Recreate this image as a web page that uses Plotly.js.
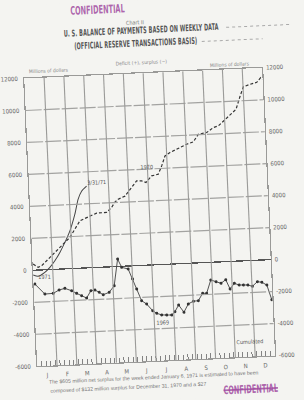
<!DOCTYPE html>
<html><head><meta charset="utf-8">
<script src="https://cdn.plot.ly/plotly-3.0.1.min.js"></script>
<style>
html,body{margin:0;padding:0;background:#f4f4f1;overflow:hidden;width:304px;height:400px}
#wrap{position:absolute;left:0;top:0;width:304px;height:400px;transform:rotate(-2.58deg);transform-origin:150px 225px}
#chart{position:absolute;left:0;top:0;width:304px;height:400px}
.stamp{position:absolute;font-family:"Liberation Sans Narrow","DejaVu Sans Condensed",sans-serif;font-weight:bold;font-size:7.3px;color:rgba(160,75,160,0.85);transform:scaleY(1.6);white-space:nowrap;line-height:9px}
.ttl{position:absolute;left:0;width:304px;text-align:center;font-family:"DejaVu Sans Condensed",sans-serif;font-weight:bold;font-size:5.4px;color:#555;letter-spacing:0.15px;transform:scaleY(1.7);white-space:nowrap;line-height:7px}
</style></head><body>
<div id="wrap"><div id="chart"></div>
<div class="ttl" style="top:27px;left:-2px">U. S. BALANCE OF PAYMENTS BASED ON WEEKLY DATA</div>
<div class="ttl" style="top:40px;left:-8px">(OFFICIAL RESERVE TRANSACTIONS BASIS)</div>
<div class="stamp" style="left:80px;top:3px">CONFIDENTIAL</div>
<div class="stamp" style="left:216px;top:389px;text-decoration:line-through">CONFIDENTIAL</div>
</div>
<script>
// Month labels along the bottom
const months = ['J','F','M','A','M','J','J','A','S','O','N','D'];
// Y tick values / labels (millions of dollars)
const yTicks = [-6000,-4000,-2000,0,2000,4000,6000,8000,10000,12000];
const yTickText = ['-6000','-4000','-2000','0','2000','4000','6000','8000','10000','12000'];

// 1969 cumulated (week position, millions of dollars)
const w1969 = [0.28,2.37,4.19,5.51,6.79,8.24,9.31,10.38,11.45,12.45,13.33,14.25,15.1,16.43,17.59,18.59,19.39,20.8,21.67,22.46,23.42,24.49,25.74,26.59,27.66,28.75,29.84,30.59,31.46,32.55,33.58,34.72,35.81,36.81,37.69,38.72,39.85,40.92,41.99,42.85,43.83,44.85,45.79,46.76,47.74,48.88,49.84,50.91,51.85];
const v1969 = [-860,-1515,-1496,-1303,-1216,-1384,-1559,-1721,-1883,-1434,-1403,-1559,-1721,-1590,-1191,468,-62,-187,-823,-1459,-2200,-2425,-2855,-3030,-3148,-3167,-3180,-2980,-2575,-3042,-2537,-2381,-2362,-1914,-1926,-1103,-1228,-1340,-1128,-1721,-1378,-1496,-1509,-1521,-1615,-1340,-1390,-1577,-2506];

// 1970 cumulated (dashed)
const w1970 = [0.11,1.17,1.93,3.07,4.21,4.97,6.1,7.24,8.39,9.56,10.74,11.85,12.97,14.46,16.65,17.79,18.57,19.32,20.81,21.98,23.52,24.61,25.54,26.85,28.31,29.13,29.95,31.08,33.31,34.8,36.27,37.44,39.29,40.78,41.89,43.42,44.95,45.92,46.92,47.73,49.22,50.7,51.6,51.95];
const v1970 = [390,170,254,558,855,1059,1356,1654,1951,2455,2958,3094,3242,3391,3407,3704,4026,4204,4372,4794,5293,5278,5167,5562,5650,6157,6771,6970,7253,7440,7565,8031,8114,8407,8493,8891,9290,9484,10283,10866,11003,11109,11388,11276];

// 1971 cumulated (solid)
const w1971 = [0,1.08,2.58,3.73,4.88,6.06,7.25,8.46,9.71,10.57,11.4,12.54];
const v1971 = [-296,-391,-160,137,535,1044,1654,2363,3390,4316,4805,5103];

const monthMid = months.map((m,i)=>(i+0.5)*52/12);
const monthBounds = months.map((m,i)=>(i+1)*52/12).slice(0,11);
const fam = '"Liberation Sans Narrow","DejaVu Sans Condensed",sans-serif';
const tf = {family:fam,size:6,color:'#666'};
const gridC = '#9a9a98';

const traces = [
  {x:w1970,y:v1970,mode:'lines',line:{color:'#333',width:1.2,dash:'3px,2px'},showlegend:false,hoverinfo:'skip'},
  {x:w1971,y:v1971,mode:'lines',line:{color:'#444',width:1,shape:'spline',smoothing:0.6},showlegend:false,hoverinfo:'skip'},
  {x:w1969,y:v1969,mode:'lines+markers',line:{color:'#444',width:0.9},marker:{size:3,color:'#333'},showlegend:false,hoverinfo:'skip'},
  {x:[null],y:[null],xaxis:'x2',yaxis:'y2',mode:'lines',showlegend:false,hoverinfo:'skip'}
];

const ann = (x,y,text,size,color,extra)=>Object.assign({xref:'paper',yref:'paper',x:x,y:y,text:text,showarrow:false,font:{family:fam,size:size,color:color}},extra||{});
const dann = (x,y,text)=>({xref:'x',yref:'y',x:x,y:y,text:text,showarrow:false,font:{family:fam,size:5.5,color:'#555'}});
const noteFont = {family:'"Liberation Sans",Arial,sans-serif',size:5.2,color:'#777'};

const hGrid = yTicks.filter(v=>v!==0 && v!==-6000 && v!==12000).map(v=>({
  type:'line',xref:'paper',yref:'y',x0:0,x1:1,y0:v,y1:v,layer:'above',
  line:{color:'#a3a3a1',width:1.2,dash:'16px,2px'}}));
const vGrid = monthBounds.map(w=>({
  type:'line',xref:'x',yref:'paper',x0:w,x1:w,y0:0,y1:1,layer:'above',
  line:{color:gridC,width:1.1}}));

const layout = {
  width:304,height:400,
  margin:{l:31,r:35,t:73,b:39},
  paper_bgcolor:'#f4f4f1',plot_bgcolor:'#f4f4f1',
  showlegend:false,
  xaxis:{range:[0,52],tickmode:'array',tickvals:monthMid,ticktext:months,showgrid:false,zeroline:false,
    showline:true,mirror:true,linecolor:gridC,linewidth:1.2,ticks:'',tickfont:tf,ticklabelstandoff:3},
  xaxis2:{overlaying:'x',anchor:'y',side:'bottom',range:[0,52],tickmode:'linear',tick0:0,dtick:1,ticks:'inside',
    ticklen:5,tickcolor:'#777',tickwidth:0.9,showticklabels:false,showgrid:false,zeroline:false},
  yaxis:{range:[-6000,12000],tickmode:'array',tickvals:yTicks,ticktext:yTickText,showgrid:false,
    zeroline:true,zerolinecolor:'#555',zerolinewidth:1.3,
    showline:true,mirror:true,linecolor:gridC,linewidth:1.2,ticks:'',tickfont:tf,ticklabelstandoff:4},
  yaxis2:{overlaying:'y',side:'right',range:[-6000,12000],tickmode:'array',tickvals:yTicks,ticktext:yTickText,
    showgrid:false,zeroline:false,ticks:'',tickfont:tf,ticklabelstandoff:3},
  shapes:hGrid.concat(vGrid).concat([
    {type:'line',xref:'paper',yref:'paper',x0:0.857,x1:1.13,y0:1.146,y1:1.146,line:{color:'#aaa',width:1,dash:'dot'}},
    {type:'line',xref:'paper',yref:'paper',x0:0.752,x1:1.008,y0:1.1007,y1:1.1007,line:{color:'#aaa',width:1,dash:'dot'}}
  ]),
  annotations:[
    ann(0.476,1.193,'Chart II',5.5,'#777'),
    ann(0.494,1.057,'Deficit (+), surplus (−)',5,'#888'),
    ann(0.013,1.040,'Millions of dollars',5,'#888'),
    ann(0.960,1.036,'Millions of dollars',5,'#888'),
    ann(0.487,-0.0736,'The $605 million net surplus for the week ended January 6, 1971 is estimated to have been',5.2,'#777',{font:noteFont}),
    ann(0.044,-0.104,'composed of $132 million surplus for December 31, 1970 and a $27',5.2,'#777',{xanchor:'left',font:noteFont}),
    dann(25.8,6100,'1970'),
    dann(14.8,5324,'3/31/71'),
    dann(2.5,-455,'1971'),
    dann(27.9,-3653,'1969'),
    dann(46.7,-5081,'Cumulated')
  ]
};
Plotly.newPlot('chart',traces,layout,{staticPlot:true,displayModeBar:false});
</script>
</body></html>
